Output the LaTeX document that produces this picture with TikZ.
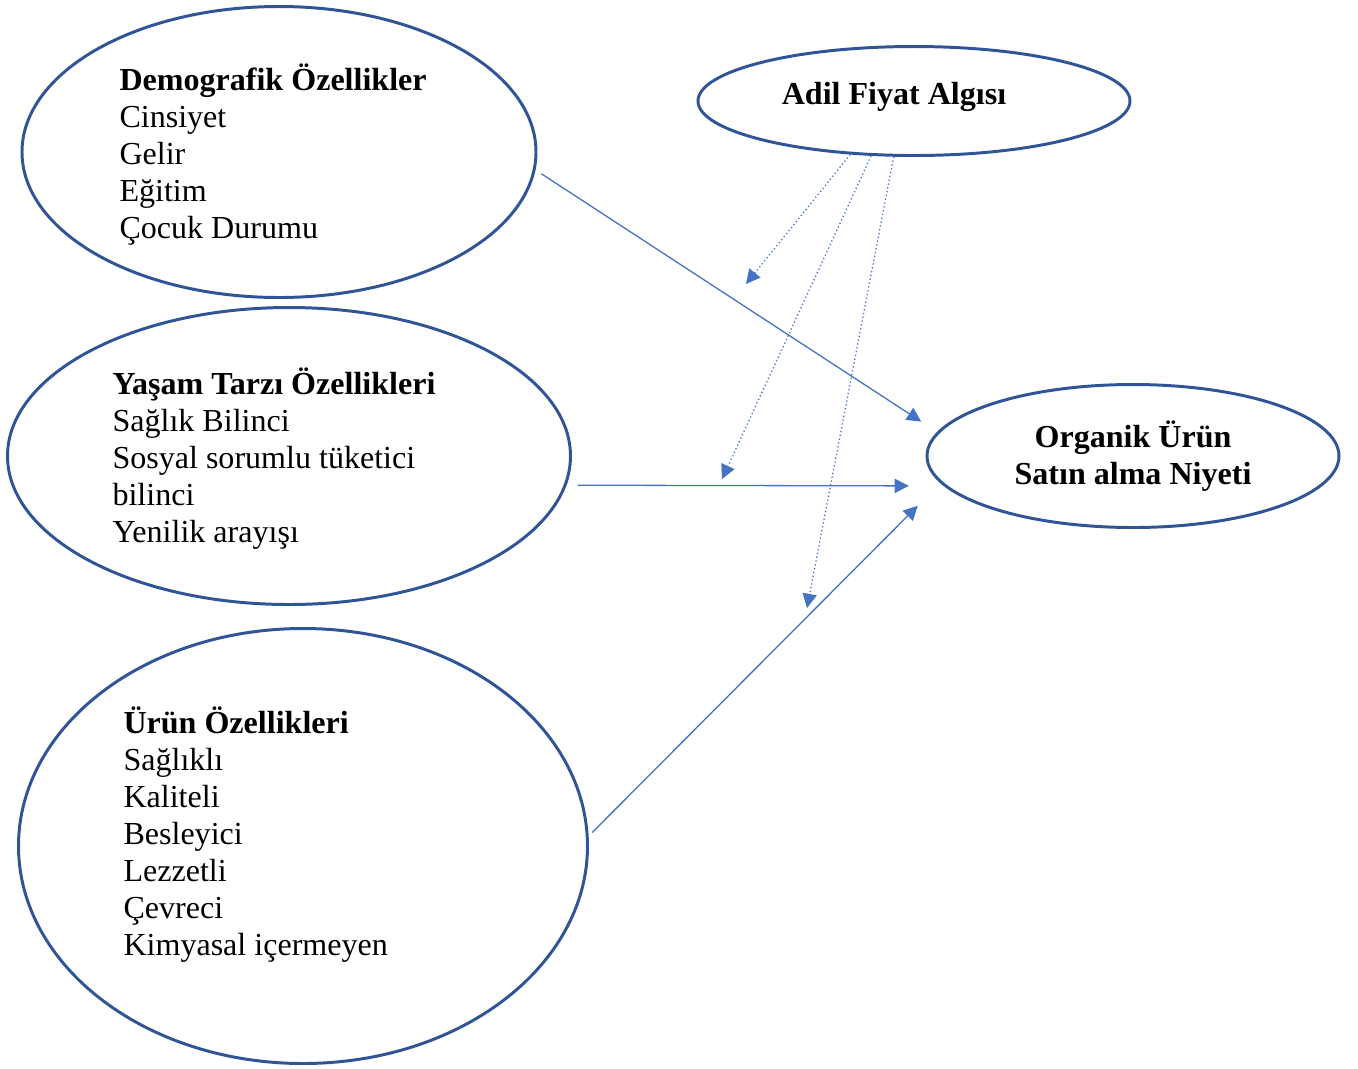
\documentclass[tikz,border=0pt]{standalone}
\usepackage{fontspec}
\setmainfont{Liberation Serif}
\usepackage{xcolor}
\usetikzlibrary{shapes,arrows.meta,positioning}
\definecolor{ovalblue}{HTML}{2F5597}
\definecolor{linkblue}{HTML}{4472C4}
\newcommand{\pxs}{0.0136cm}

\begin{document}
\begin{tikzpicture}[x=\pxs, y=-\pxs, font=\fontsize{12.4}{14.3}\selectfont]
    % Define styles
    \tikzstyle{factor} = [ellipse, draw=ovalblue, line width=1.15pt, inner sep=0pt]
    \tikzstyle{items} = [anchor=base west, align=left, inner sep=0pt]
    \tikzstyle{arrow} = [linkblue, line width=0.5pt, -{Triangle[length=5.5pt, width=5.5pt]}]
    \tikzstyle{moderator} = [arrow, densely dotted]

    \useasboundingbox (0,0) rectangle (1358,1068);

    % Ovals
    \node [factor, minimum width=514*\pxs, minimum height=291*\pxs] (demo) at (279,152) {};
    \node [factor, minimum width=563*\pxs, minimum height=297*\pxs] (yasam) at (289,456) {};
    \node [factor, minimum width=569*\pxs, minimum height=435*\pxs] (urun) at (303,846) {};
    \node [factor, minimum width=432*\pxs, minimum height=109*\pxs] (adil) at (914,101) {};
    \node [factor, minimum width=412*\pxs, minimum height=143*\pxs, align=center, font=\fontsize{12.4}{14.3}\selectfont\bfseries] (niyet) at (1133,456) {Organik Ürün\\Satın alma Niyeti};

    % Texts (anchored at the baseline of the last line)
    \node [items] (demotext) at (119,238) {\textbf{Demografik Özellikler}\\Cinsiyet\\Gelir\\Eğitim\\Çocuk Durumu};
    \node [items] (yasamtext) at (112,542) {\textbf{Yaşam Tarzı Özellikleri}\\Sağlık Bilinci\\Sosyal sorumlu tüketici\\bilinci\\Yenilik arayışı};
    \node [items] (uruntext) at (123,955) {\textbf{Ürün Özellikleri}\\Sağlıklı\\Kaliteli\\Besleyici\\Lezzetli\\Çevreci\\Kimyasal içermeyen};
    \node [anchor=base, inner sep=0pt, font=\fontsize{12.4}{14.3}\selectfont\bfseries] (adiltext) at (894,104) {Adil Fiyat Algısı};

    % Arrow ends
    \coordinate (m1) at (746,284);
    \coordinate (m2) at (722,479);
    \coordinate (m3) at (807,608);

    % Arrows
    \draw [arrow, shorten <=7*\pxs, shorten >=19*\pxs] (demo.-4.5) -- (niyet.173.7);
    \draw [arrow, shorten <=11*\pxs, shorten >=35*\pxs] (yasam.-6.5) -- (niyet.-171.5);
    \draw [arrow, shorten <=5*\pxs, shorten >=32*\pxs] (urun.2.5) -- (niyet.188);
    \draw [moderator] (adil.-140.8) -- (m1);
    \draw [moderator] (adil.-128.9) -- (m2);
    \draw [moderator] (adil.-110.1) -- (m3);
\end{tikzpicture}
\end{document}
